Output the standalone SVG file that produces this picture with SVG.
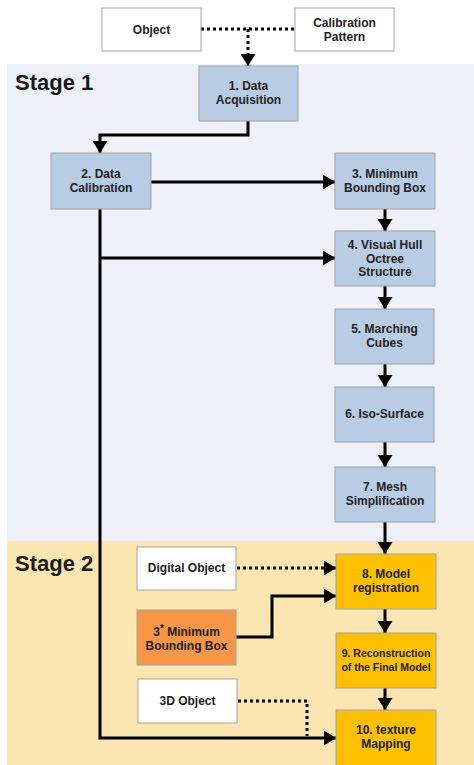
<svg xmlns="http://www.w3.org/2000/svg" width="474" height="765" viewBox="0 0 474 765">
<defs>
<style>
.bg1{fill:#eef1f9}
.bg2{fill:#fbe5b0}
.stage{font-family:"Liberation Sans",Arial,sans-serif;font-weight:bold;font-size:22px;fill:#1a1a1a}
.box rect{stroke:#a3a3a3;stroke-width:1}
.blue{fill:#b8cce4}
.white{fill:#ffffff}
.gold{fill:#ffc000}
.orange{fill:#f79646}
.box text{font-family:"Liberation Sans",Arial,sans-serif;font-weight:bold;font-size:12px;fill:#222;text-anchor:middle}
.box text.sm{font-size:10.5px}
.c{fill:none;stroke:#000;stroke-width:3}
.d{fill:none;stroke:#000;stroke-width:3;stroke-dasharray:3 3}
</style>
<marker id="ah" markerWidth="15" markerHeight="15" viewBox="0 0 15 15" refX="12" refY="7.5" orient="auto" markerUnits="userSpaceOnUse">
<path d="M0,0 L12,7.5 L0,15 Z" fill="#000"/>
</marker>
</defs>
<rect class="bg1" x="7" y="64" width="467" height="477"/>
<rect class="bg2" x="7" y="541" width="467" height="224"/>
<text class="stage" x="15" y="90">Stage 1</text>
<text class="stage" x="15" y="571">Stage 2</text>

<g id="connectors">
<path class="d" d="M201,29 H295"/>
<path class="d" d="M248,29 V66" marker-end="url(#ah)"/>
<path class="c" d="M248,121 V135 H100 V153" marker-end="url(#ah)"/>
<path class="c" d="M151,182 H335" marker-end="url(#ah)"/>
<path class="c" d="M385,209 V231" marker-end="url(#ah)"/>
<path class="c" d="M100,209 V738 H336" marker-end="url(#ah)"/>
<path class="c" d="M100,258 H335" marker-end="url(#ah)"/>
<path class="c" d="M385,286 V309" marker-end="url(#ah)"/>
<path class="c" d="M385,364 V387" marker-end="url(#ah)"/>
<path class="c" d="M385,442 V467" marker-end="url(#ah)"/>
<path class="c" d="M385,522 V554" marker-end="url(#ah)"/>
<path class="d" d="M237,568 H336" marker-end="url(#ah)"/>
<path class="c" d="M236,637 H272 V596 H336" marker-end="url(#ah)"/>
<path class="c" d="M385,609 V633" marker-end="url(#ah)"/>
<path class="c" d="M385,688 V710" marker-end="url(#ah)"/>
<path class="d" d="M238,701 H307 V736"/>
</g>

<g id="object" class="box"><rect class="white" x="102" y="8" width="99" height="43"/><text x="151.5" y="34">Object</text></g>
<g id="calibration-pattern" class="box"><rect class="white" x="295" y="8" width="99" height="43"/><text x="344.5" y="27">Calibration</text><text x="344.5" y="40.5">Pattern</text></g>
<g id="n1" class="box"><rect class="blue" x="199" y="66" width="99" height="55"/><text x="248.5" y="90">1. Data</text><text x="248.5" y="103.5">Acquisition</text></g>
<g id="n2" class="box"><rect class="blue" x="51" y="153" width="100" height="56"/><text x="101" y="178">2. Data</text><text x="101" y="191.5">Calibration</text></g>
<g id="n3" class="box"><rect class="blue" x="335" y="153" width="100" height="56"/><text x="385" y="178">3. Minimum</text><text x="385" y="191.5">Bounding Box</text></g>
<g id="n4" class="box"><rect class="blue" x="335" y="231" width="100" height="55"/><text x="385" y="249">4. Visual Hull</text><text x="385" y="262.5">Octree</text><text x="385" y="276">Structure</text></g>
<g id="n5" class="box"><rect class="blue" x="335" y="309" width="99" height="55"/><text x="384.5" y="333">5. Marching</text><text x="384.5" y="346.5">Cubes</text></g>
<g id="n6" class="box"><rect class="blue" x="335" y="387" width="99" height="55"/><text x="384.5" y="418">6. Iso-Surface</text></g>
<g id="n7" class="box"><rect class="blue" x="335" y="467" width="100" height="55"/><text x="385" y="491">7. Mesh</text><text x="385" y="504.5">Simplification</text></g>
<g id="digital-object" class="box"><rect class="white" x="137" y="547" width="99" height="43"/><text x="186.5" y="572">Digital Object</text></g>
<g id="n3star" class="box"><rect class="orange" x="137" y="610" width="99" height="55"/><text x="186.5" y="636">3<tspan dy="-4" font-size="10">*</tspan><tspan dy="4"> Minimum</tspan></text><text x="186.5" y="650">Bounding Box</text></g>
<g id="object3d" class="box"><rect class="white" x="138" y="679" width="99" height="44"/><text x="187.5" y="705">3D Object</text></g>
<g id="n8" class="box"><rect class="gold" x="336" y="554" width="100" height="55"/><text x="386" y="578">8. Model</text><text x="386" y="591.5">registration</text></g>
<g id="n9" class="box"><rect class="gold" x="336" y="633" width="100" height="55"/><text class="sm" x="386" y="657">9. Reconstruction</text><text class="sm" x="386" y="670.5">of the Final Model</text></g>
<g id="n10" class="box"><rect class="gold" x="336" y="710" width="100" height="60"/><text x="386" y="734">10. texture</text><text x="386" y="747.5">Mapping</text></g>
</svg>
